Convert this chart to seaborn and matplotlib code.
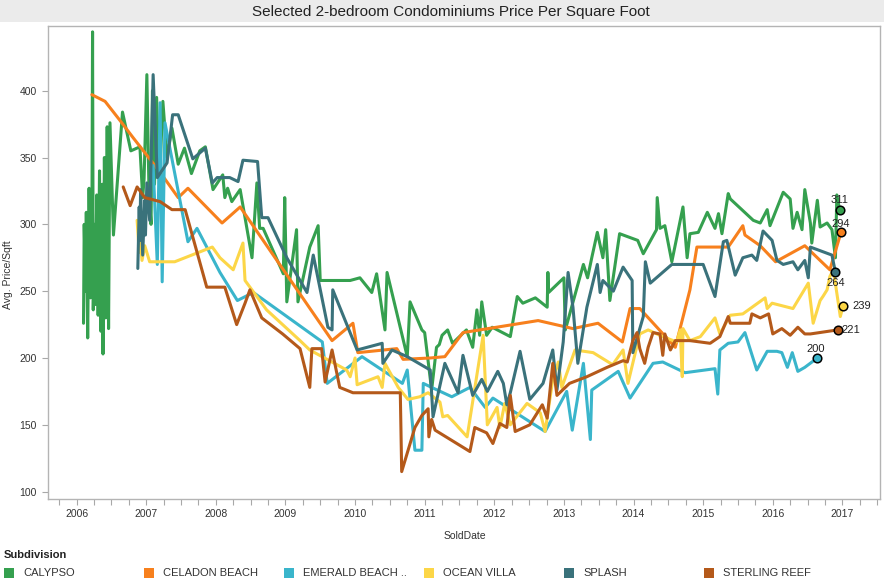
import pandas as pd
import matplotlib
matplotlib.use("Agg")
import matplotlib.pyplot as plt
import seaborn as sns
from matplotlib.patches import Rectangle
from matplotlib.ticker import MultipleLocator

# Subdivisions and colours (legend order)
subdivisions = ["CALYPSO", "CELADON BEACH", "EMERALD BEACH ..", "OCEAN VILLA", "SPLASH", "STERLING REEF"]
colors = ["#35a04f", "#f7801d", "#3ab5cb", "#fcd647", "#3a727b", "#b4591a"]

# Sold date as decimal year, average price per sqft
calypso_date = [2006.10, 2006.11, 2006.13, 2006.14, 2006.16, 2006.18, 2006.20, 2006.22, 2006.23, 2006.24,
                2006.26, 2006.27, 2006.29, 2006.31, 2006.33, 2006.35, 2006.37, 2006.38, 2006.40, 2006.42,
                2006.44, 2006.46, 2006.48, 2006.53, 2006.66, 2006.78, 2006.91, 2006.95, 2006.97, 2007.01,
                2007.04, 2007.07, 2007.09, 2007.12, 2007.15, 2007.19, 2007.24, 2007.30, 2007.37, 2007.46,
                2007.55, 2007.65, 2007.77, 2007.85, 2007.96, 2008.10, 2008.13, 2008.17, 2008.23, 2008.35,
                2008.52, 2008.59, 2008.63, 2008.68, 2008.97, 2008.99, 2009.02, 2009.16, 2009.18, 2009.35,
                2009.47, 2009.50, 2009.93, 2010.07, 2010.24, 2010.31, 2010.43, 2010.46, 2010.75, 2010.79,
                2010.96, 2011.00, 2011.10, 2011.17, 2011.21, 2011.25, 2011.33, 2011.40, 2011.60, 2011.69,
                2011.75, 2011.79, 2011.82, 2011.89, 2011.97, 2012.23, 2012.33, 2012.41, 2012.59, 2012.76,
                2012.77, 2012.78, 2013.00, 2013.02, 2013.28, 2013.34, 2013.40, 2013.48, 2013.56, 2013.60,
                2013.66, 2013.80, 2014.06, 2014.14, 2014.33, 2014.34, 2014.38, 2014.45, 2014.55, 2014.71,
                2014.77, 2014.81, 2014.93, 2015.06, 2015.17, 2015.22, 2015.27, 2015.36, 2015.39, 2015.72,
                2015.82, 2015.92, 2015.96, 2016.15, 2016.25, 2016.29, 2016.35, 2016.42, 2016.46, 2016.54,
                2016.56, 2016.64, 2016.68, 2016.78, 2016.85, 2016.90, 2016.92, 2016.96]
calypso_price = [226, 300, 250, 309, 215, 327, 245, 290, 444, 236,
                 300, 240, 322, 232, 340, 220, 330, 203, 350, 230,
                 373, 222, 376, 292, 384, 355, 358, 320, 334, 412,
                 326, 300, 400, 330, 395, 330, 392, 350, 372, 345,
                 357, 338, 355, 358, 326, 337, 320, 327, 317, 326,
                 275, 331, 297, 297, 263, 320, 242, 296, 242, 283,
                 299, 258, 258, 260, 249, 263, 221, 264, 201, 242,
                 221, 219, 176, 208, 210, 217, 221, 211, 221, 208,
                 236, 217, 242, 217, 223, 216, 246, 241, 245, 238,
                 264, 249, 260, 221, 270, 260, 275, 294, 275, 296,
                 243, 293, 288, 278, 296, 320, 297, 299, 272, 313,
                 275, 293, 294, 309, 297, 308, 293, 323, 319, 303,
                 301, 311, 299, 324, 319, 297, 309, 296, 326, 301,
                 286, 318, 298, 301, 296, 275, 322, 311]

celadon_date = [2006.22, 2006.41, 2006.62, 2006.81, 2007.20, 2007.46, 2007.60, 2008.09, 2008.35, 2009.67,
                2009.97, 2010.04, 2010.60, 2010.69, 2011.08, 2011.29, 2011.55, 2012.63, 2013.13, 2013.49,
                2013.84, 2013.95, 2014.09, 2014.60, 2014.81, 2014.91, 2015.36, 2015.57, 2015.60, 2015.82,
                2016.04, 2016.46, 2016.82, 2016.98]
celadon_price = [397, 392, 378, 365, 339, 320, 327, 301, 313, 213,
                 226, 204, 207, 199, 200, 201, 219, 228, 222, 226,
                 212, 237, 237, 208, 251, 283, 283, 299, 292, 284,
                 272, 284, 266, 294]

emerald_date = [2007.10, 2007.16, 2007.20, 2007.23, 2007.27, 2007.60, 2007.73, 2008.06, 2008.31, 2008.54,
                2009.53, 2009.60, 2010.10, 2010.68, 2010.75, 2010.86, 2010.96, 2010.98, 2011.10, 2011.39,
                2011.65, 2011.87, 2011.98, 2012.73, 2013.04, 2013.12, 2013.28, 2013.38, 2013.40, 2013.78,
                2013.95, 2014.28, 2014.42, 2014.74, 2015.17, 2015.21, 2015.24, 2015.36, 2015.50, 2015.60,
                2015.77, 2015.92, 2016.06, 2016.13, 2016.21, 2016.28, 2016.36, 2016.46, 2016.64]
emerald_price = [344, 270, 391, 257, 376, 287, 297, 264, 243, 249,
                 212, 181, 201, 181, 191, 131, 131, 181, 178, 171,
                 178, 163, 170, 145, 175, 146, 196, 139, 176, 190,
                 170, 196, 197, 189, 192, 173, 206, 211, 212, 219,
                 191, 205, 205, 204, 193, 204, 190, 193, 200]

ocean_date = [2006.87, 2006.90, 2006.91, 2006.94, 2006.98, 2007.05, 2007.15, 2007.41, 2007.85, 2007.95,
              2008.06, 2008.25, 2008.39, 2008.42, 2008.73, 2009.21, 2009.35, 2009.88, 2009.93, 2010.00,
              2010.03, 2010.33, 2010.39, 2010.43, 2010.62, 2010.76, 2010.93, 2011.05, 2011.22, 2011.26,
              2011.33, 2011.61, 2011.84, 2011.90, 2012.04, 2012.08, 2012.15, 2012.23, 2012.47, 2012.66,
              2012.73, 2012.84, 2012.92, 2012.97, 2013.16, 2013.42, 2013.70, 2013.85, 2013.92, 2014.09,
              2014.21, 2014.42, 2014.62, 2014.67, 2014.70, 2014.71, 2014.81, 2014.96, 2015.17, 2015.24,
              2015.39, 2015.57, 2015.89, 2015.92, 2015.99, 2016.29, 2016.51, 2016.58, 2016.68, 2016.72,
              2016.78, 2016.82, 2016.87, 2016.97, 2017.01]
ocean_price = [303, 279, 294, 273, 284, 272, 272, 272, 281, 283,
               275, 266, 286, 258, 236, 213, 206, 191, 186, 200,
               180, 186, 178, 196, 178, 169, 171, 174, 167, 156,
               157, 141, 217, 150, 163, 148, 166, 150, 166, 159,
               145, 184, 197, 178, 206, 204, 195, 206, 181, 218,
               221, 216, 212, 221, 186, 222, 213, 216, 230, 218,
               232, 233, 245, 237, 241, 237, 256, 226, 243, 246,
               251, 261, 266, 231, 239]

splash_date = [2006.88, 2006.90, 2006.91, 2006.92, 2006.95, 2006.98, 2006.99, 2007.01, 2007.05, 2007.10,
               2007.16, 2007.30, 2007.38, 2007.46, 2007.67, 2007.85, 2007.95, 2008.02, 2008.20, 2008.32,
               2008.39, 2008.60, 2008.66, 2008.75, 2009.02, 2009.31, 2009.40, 2009.61, 2009.67, 2009.68,
               2010.03, 2010.39, 2010.40, 2010.53, 2010.75, 2011.08, 2011.12, 2011.29, 2011.48, 2011.55,
               2011.69, 2011.82, 2011.90, 2012.05, 2012.13, 2012.18, 2012.23, 2012.37, 2012.51, 2012.70,
               2012.84, 2012.90, 2012.99, 2013.06, 2013.13, 2013.20, 2013.33, 2013.48, 2013.52, 2013.56,
               2013.71, 2013.85, 2013.98, 2013.99, 2014.14, 2014.17, 2014.24, 2014.55, 2015.00, 2015.17,
               2015.29, 2015.34, 2015.46, 2015.57, 2015.70, 2015.77, 2015.86, 2015.99, 2016.06, 2016.15,
               2016.29, 2016.36, 2016.46, 2016.51, 2016.54, 2016.85, 2016.90]
splash_price = [267, 313, 288, 326, 277, 318, 292, 331, 303, 412,
                335, 346, 382, 382, 349, 357, 331, 335, 335, 332,
                348, 347, 305, 305, 275, 249, 277, 223, 221, 251,
                206, 211, 196, 206, 201, 191, 156, 196, 174, 202,
                172, 184, 175, 190, 181, 165, 174, 205, 169, 181,
                206, 176, 212, 264, 238, 196, 238, 270, 249, 258,
                250, 268, 258, 204, 231, 272, 256, 270, 270, 246,
                287, 288, 262, 275, 277, 273, 295, 288, 273, 270,
                272, 266, 273, 260, 283, 277, 264]

sterling_date = [2006.67, 2006.77, 2006.87, 2006.98, 2007.20, 2007.37, 2007.56, 2007.87, 2008.13, 2008.30,
                 2008.42, 2008.49, 2008.66, 2008.96, 2009.21, 2009.35, 2009.38, 2009.52, 2009.57, 2009.67,
                 2009.78, 2009.97, 2010.65, 2010.67, 2010.86, 2010.96, 2011.05, 2011.06, 2011.10, 2011.15,
                 2011.65, 2011.72, 2011.89, 2011.98, 2012.08, 2012.18, 2012.23, 2012.30, 2012.51, 2012.69,
                 2012.76, 2012.84, 2012.90, 2013.08, 2013.33, 2013.62, 2013.85, 2013.91, 2013.99, 2014.05,
                 2014.09, 2014.16, 2014.21, 2014.28, 2014.38, 2014.42, 2014.45, 2014.53, 2014.60, 2014.81,
                 2015.10, 2015.24, 2015.36, 2015.39, 2015.67, 2015.70, 2015.82, 2015.94, 2016.00, 2016.13,
                 2016.25, 2016.36, 2016.46, 2016.54, 2016.93]
sterling_price = [328, 314, 328, 320, 317, 311, 311, 253, 253, 225,
                  241, 251, 230, 218, 207, 178, 207, 207, 182, 206,
                  178, 174, 174, 115, 148, 157, 162, 141, 154, 146,
                  130, 148, 144, 136, 151, 148, 172, 145, 150, 165,
                  155, 196, 172, 181, 186, 193, 198, 197, 213, 219,
                  207, 196, 208, 219, 218, 202, 218, 206, 213, 213,
                  211, 216, 231, 226, 226, 233, 230, 233, 218, 222,
                  217, 223, 218, 218, 221]

all_dates = [calypso_date, celadon_date, emerald_date, ocean_date, splash_date, sterling_date]
all_prices = [calypso_price, celadon_price, emerald_price, ocean_price, splash_price, sterling_price]

frames = []
for name, d, p in zip(subdivisions, all_dates, all_prices):
    frames.append(pd.DataFrame({"SoldDate": d, "Avg. Price/Sqft": p, "Subdivision": name}))
df = pd.concat(frames, ignore_index=True)

sns.set_style("white")
plt.rcParams["font.family"] = ["Liberation Sans", "DejaVu Sans"]

W, H = 884, 584
fig = plt.figure(figsize=(W / 100, H / 100), dpi=100)
ax = fig.add_axes([48 / W, 1 - 499 / H, 832 / W, 473 / H])

palette = dict(zip(subdivisions, colors))
sns.lineplot(data=df, x="SoldDate", y="Avg. Price/Sqft", hue="Subdivision", hue_order=subdivisions,
             palette=palette, estimator=None, sort=False, linewidth=2.2, legend=False, ax=ax)

# End markers with value labels
label_offsets = {
    "CALYPSO": ((0, 3), "center", "bottom"),
    "CELADON BEACH": ((0, 2.5), "center", "bottom"),
    "EMERALD BEACH ..": ((-1, 3), "center", "bottom"),
    "OCEAN VILLA": ((7, 0), "left", "center"),
    "SPLASH": ((0, -4), "center", "top"),
    "STERLING REEF": ((3, 0), "left", "center"),
}
for name, d, p in zip(subdivisions, all_dates, all_prices):
    ax.scatter([d[-1]], [p[-1]], s=38, color=palette[name], edgecolor="black", linewidth=1.1, zorder=5)
    off, ha, va = label_offsets[name]
    ax.annotate(str(p[-1]), (d[-1], p[-1]), xytext=off, textcoords="offset points",
                ha=ha, va=va, fontsize=8, color="#222222", zorder=6)

ax.set_xlim(2005.59, 2017.54)
ax.set_ylim(94.5, 448.4)
ax.set_xticks(range(2006, 2018))
ax.set_xticklabels([str(y) for y in range(2006, 2018)])
ax.xaxis.set_minor_locator(MultipleLocator(0.25))
ax.set_yticks([100, 150, 200, 250, 300, 350, 400])
ax.tick_params(axis="both", which="both", direction="out", length=4, width=0.8,
               color="#a8a8a8", labelsize=7.5, labelcolor="#333333")
ax.tick_params(axis="x", which="both", bottom=True, pad=3)
ax.tick_params(axis="y", left=True, pad=4)

for side in ["left", "bottom", "top", "right"]:
    ax.spines[side].set_color("#b4b4b4")
    ax.spines[side].set_linewidth(1)

ax.set_xlabel("SoldDate", fontsize=7.5, color="#333333")
ax.set_ylabel("Avg. Price/Sqft", fontsize=7.5, color="#333333")
ax.xaxis.set_label_coords(0.501, -0.068)
ax.yaxis.set_label_coords(-0.042, 0.475)

# Title band
fig.add_artist(Rectangle((0, 1 - 22 / H), 1, 22 / H, transform=fig.transFigure,
                         facecolor="#ebebeb", edgecolor="none", zorder=0))
fig.text(451 / W, 1 - 12 / H, "Selected 2-bedroom Condominiums Price Per Square Foot",
         ha="center", va="center", fontsize=11, color="#222222")

# Legend
fig.text(4 / W, 1 - 555 / H, "Subdivision", ha="left", va="center", fontsize=8,
         fontweight="bold", color="#222222")
for i, (name, c) in enumerate(zip(subdivisions, colors)):
    x0 = 4 + 140 * i
    fig.add_artist(Rectangle((x0 / W, 1 - 578 / H), 10 / W, 10 / H, transform=fig.transFigure,
                             facecolor=c, edgecolor="none"))
    fig.text((x0 + 19) / W, 1 - 573 / H, name, ha="left", va="center", fontsize=8, color="#333333")

fig.savefig("out.png", dpi=100)
